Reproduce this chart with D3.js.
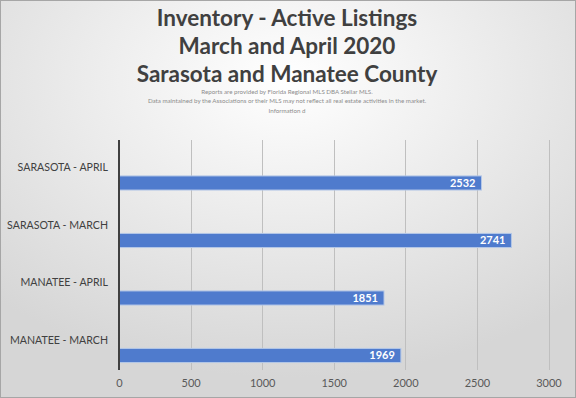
<!DOCTYPE html>
<html>
<head>
<meta charset="utf-8">
<script src="https://cdn.jsdelivr.net/npm/d3@7"></script>
<style>
  body { margin: 0; padding: 0; }
  svg { display: block; }
</style>
</head>
<body>
<div id="chart"></div>
<script>
// data
const categories = ['SARASOTA - APRIL', 'SARASOTA - MARCH', 'MANATEE - APRIL', 'MANATEE - MARCH'];
const listings = [2532, 2741, 1851, 1969];
const xTicks = [0, 500, 1000, 1500, 2000, 2500, 3000];
const titleLines = ['Inventory - Active Listings', 'March and April 2020', 'Sarasota and Manatee County'];
const noteLines = [
	'Reports are provided by Florida Regional MLS DBA Stellar MLS.',
	'Data maintained by the Associations or their MLS may not reflect all real estate activities in the market.',
	'Information d'
];

const width = 576;
const height = 398;
const margin = {top: 140, right: 28, bottom: 28, left: 119};

const svg = d3.select('#chart')
	.append('svg')
	.attr('width', width)
	.attr('height', height);

const defs = svg.append('defs');
const grad = defs.append('radialGradient')
	.attr('id', 'bg')
	.attr('cx', '50%').attr('cy', '20%')
	.attr('r', '75%');
grad.append('stop').attr('offset', '0%').attr('stop-color', '#ffffff');
grad.append('stop').attr('offset', '100%').attr('stop-color', '#d6d6d6');

svg.append('rect')
	.attr('x', 0.5).attr('y', 0.5)
	.attr('width', width - 1).attr('height', height - 1)
	.attr('fill', 'url(#bg)')
	.attr('stroke', '#a6a6a6');

// titles
svg.append('g')
	.selectAll('text')
	.data(titleLines)
	.enter()
	.append('text')
	.attr('x', 287)
	.attr('y', (d, i) => 26 + i * 28)
	.attr('text-anchor', 'middle')
	.attr('font-family', 'Lato, "Open Sans", sans-serif')
	.attr('font-weight', 'bold')
	.attr('font-size', 22.5)
	.attr('fill', '#404040')
	.text(d => d);

svg.append('g')
	.selectAll('text')
	.data(noteLines)
	.enter()
	.append('text')
	.attr('x', 287)
	.attr('y', (d, i) => 93.5 + i * 9.5)
	.attr('text-anchor', 'middle')
	.attr('font-family', 'Lato, "Open Sans", sans-serif')
	.attr('font-size', 6.2)
	.attr('fill', '#8c8c8c')
	.text(d => d);

const x = d3.scaleLinear()
	.domain([0, 3000])
	.range([margin.left, margin.left + 429.5]);

const y = d3.scaleBand()
	.domain(categories)
	.range([margin.top, height - margin.bottom]);

const plotBottom = height - margin.bottom;

// gridlines
svg.append('g')
	.selectAll('line')
	.data(xTicks.slice(1))
	.enter()
	.append('line')
	.attr('x1', d => Math.round(x(d)) + 0.5)
	.attr('x2', d => Math.round(x(d)) + 0.5)
	.attr('y1', margin.top)
	.attr('y2', plotBottom)
	.attr('stroke', '#bfbfbf')
	.attr('stroke-width', 1);

const xAxis = d3.axisBottom(x)
	.tickValues(xTicks)
	.tickFormat(d3.format('d'))
	.tickSize(0)
	.tickPadding(9);

svg.append('g')
	.attr('transform', `translate(0,${plotBottom})`)
	.call(xAxis)
	.call(g => g.select('.domain').remove())
	.call(g => g.selectAll('text')
		.attr('font-family', 'Lato, "Open Sans", sans-serif')
		.attr('font-size', 11)
		.attr('fill', '#595959'));

// bars
const rows = categories.map((c, i) => [c, listings[i]]);
const bw = y.bandwidth();

const groups = svg.append('g')
	.selectAll('g')
	.data(rows)
	.enter()
	.append('g');

groups.append('rect')
	.attr('x', x(0))
	.attr('y', d => y(d[0]) + bw * 0.625)
	.attr('width', d => x(d[1]) - x(0))
	.attr('height', bw * 0.245)
	.attr('fill', '#4f7bcd')
	.attr('stroke', '#b4c7e7')
	.attr('stroke-width', 1);

groups.append('text')
	.attr('x', d => x(d[1]) - 6)
	.attr('y', d => y(d[0]) + bw * 0.625 + bw * 0.245 / 2 + 4)
	.attr('text-anchor', 'end')
	.attr('font-family', 'Lato, "Open Sans", sans-serif')
	.attr('font-weight', 'bold')
	.attr('font-size', 11)
	.attr('fill', '#ffffff')
	.text(d => d[1]);

// category labels
groups.append('text')
	.attr('x', margin.left - 11)
	.attr('y', d => y(d[0]) + bw * 0.47 + 4)
	.attr('text-anchor', 'end')
	.attr('font-family', 'Lato, "Open Sans", sans-serif')
	.attr('font-size', 10.6)
	.attr('fill', '#404040')
	.text(d => d[0]);

// axis line
svg.append('line')
	.attr('x1', x(0)).attr('x2', x(0))
	.attr('y1', margin.top)
	.attr('y2', plotBottom)
	.attr('stroke', '#404040')
	.attr('stroke-width', 2);
</script>
</body>
</html>
